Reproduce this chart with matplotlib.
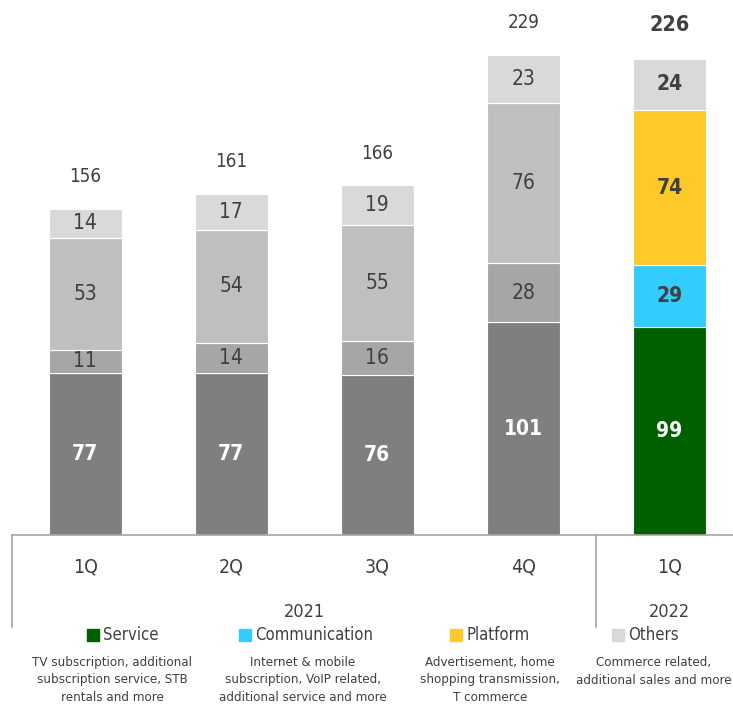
import matplotlib
matplotlib.use("Agg")
import matplotlib.pyplot as plt
from matplotlib.lines import Line2D
from matplotlib.patches import Rectangle

# quarterly revenue by segment (2021 in greys, 2022 in colour)
quarters = ["1Q", "2Q", "3Q", "4Q", "1Q"]
years = ["2021", "2022"]
service = [77, 77, 76, 101, 99]
communication = [11, 14, 16, 28, 29]
platform = [53, 54, 55, 76, 74]
others = [14, 17, 19, 23, 24]
totals = [156, 161, 166, 229, 226]

series_names = ["Service", "Communication", "Platform", "Others"]
series_notes = [
    "TV subscription, additional\nsubscription service, STB\nrentals and more",
    "Internet & mobile\nsubscription, VoIP related,\nadditional service and more",
    "Advertisement, home\nshopping transmission,\nT commerce",
    "Commerce related,\nadditional sales and more",
]

grey_colors = ["#7f7f7f", "#a6a6a6", "#bfbfbf", "#d9d9d9"]
brand_colors = ["#006000", "#33ccff", "#ffca28", "#d9d9d9"]
text_color = "#404040"
line_color = "#a6a6a6"

plt.rcParams["font.family"] = ["DejaVu Sans"]
plt.rcParams["font.stretch"] = "condensed"

W, H = 733, 708
fig = plt.figure(figsize=(W / 100, H / 100), dpi=100)


def fx(px):
    return px / W


def fy(py):
    return 1 - py / H


# bar area: baseline at y=535 px, centres 146 px apart starting at 85.5 px
base = 535
ax = fig.add_axes([fx(12), fy(base), fx(W - 12), base / H])
ax.set_xlim(-0.5, (W - 85.5) / 146)
ax.set_ylim(0, base / 2.106)
ax.axis("off")

stack = [service, communication, platform, others]
bottoms = [0] * len(quarters)
for k, vals in enumerate(stack):
    for i, v in enumerate(vals):
        col = brand_colors[k] if i == 4 else grey_colors[k]
        ax.bar(i, v, bottom=bottoms[i], width=0.5, color=col,
               edgecolor="white", linewidth=0.8)
        mid = bottoms[i] + v / 2
        if k == 0:
            tc, fw = "white", "bold"
        else:
            tc, fw = text_color, ("bold" if i == 4 else "normal")
        ax.text(i, mid, str(v), ha="center", va="center", color=tc,
                fontsize=15, fontweight=fw)
        bottoms[i] += v

for i, t in enumerate(totals):
    bold = i == 4
    ax.annotate(str(t), (i, bottoms[i]), xytext=(0, 24.5 if bold else 23),
                textcoords="offset points", ha="center", va="center",
                fontsize=15.5 if bold else 13.5, color=text_color,
                fontweight="bold" if bold else "normal")

# category axis with year brackets
fig.add_artist(Line2D([fx(12), 1], [fy(base), fy(base)], color=line_color, lw=1.2))
for px in (12, 596):
    fig.add_artist(Line2D([fx(px), fx(px)], [fy(base), fy(627)], color=line_color, lw=1.2))
for i, q in enumerate(quarters):
    fig.text(fx(85.5 + 146 * i), fy(567), q, ha="center", va="center",
             fontsize=14, color=text_color)
fig.text(fx(304), fy(612), years[0], ha="center", va="center", fontsize=13, color=text_color)
fig.text(fx(669), fy(612), years[1], ha="center", va="center", fontsize=13, color=text_color)

# legend with notes
swatch_x = [87, 239, 450, 612]
note_x = [112, 303, 490, 654]
for k, name in enumerate(series_names):
    fig.add_artist(Rectangle((fx(swatch_x[k]), fy(641)), fx(12), 12 / H,
                             color=brand_colors[k], transform=fig.transFigure))
    fig.text(fx(swatch_x[k] + 16), fy(635), name, ha="left", va="center",
             fontsize=12, color=text_color)
    fig.text(fx(note_x[k]), fy(656), series_notes[k], ha="center", va="top",
             fontsize=9.5, color=text_color, linespacing=1.45)

fig.savefig("out.png", dpi=100)
